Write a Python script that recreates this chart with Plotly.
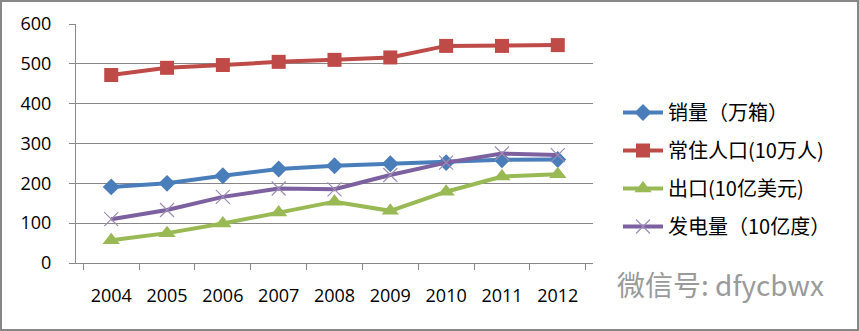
import plotly.graph_objects as go

years = ["2004", "2005", "2006", "2007", "2008", "2009", "2010", "2011", "2012"]
sales = [191, 200, 219, 236, 244, 249, 252, 259, 260]
population = [472, 490, 497, 505, 510, 516, 545, 545, 547]
exports = [57, 75, 99, 127, 154, 131, 179, 217, 223]
power = [110, 133, 166, 187, 185, 221, 252, 275, 271]

names = ["销量（万箱）", "常住人口(10万人)", "出口(10亿美元)", "发电量（10亿度）"]
W, H = 859, 331
ml, mr, mt, mb = 76, 266, 24, 68

fig = go.Figure()
fig.add_trace(go.Scatter(x=years, y=sales, name=names[0], mode="lines+markers", legendgroup="a",
                         line=dict(color="#4A7EBB", width=4),
                         marker=dict(symbol="diamond", size=13, color="#4A7EBB")))
fig.add_trace(go.Scatter(x=years, y=population, name=names[1], mode="lines+markers", legendgroup="b",
                         line=dict(color="#BE4B48", width=4),
                         marker=dict(symbol="square", size=14, color="#BE4B48")))
fig.add_trace(go.Scatter(x=years, y=exports, name=names[2], mode="lines+markers", legendgroup="c",
                         line=dict(color="#98B954", width=4),
                         marker=dict(symbol="triangle-up", size=15, color="#98B954")))
fig.add_trace(go.Scatter(x=years, y=power, name=names[3], mode="lines+markers", legendgroup="d",
                         line=dict(color="#7D60A0", width=4),
                         marker=dict(symbol="x-thin-open", size=14, color="#9C8CB4",
                                     line=dict(width=1.2, color="#9C8CB4"))))

font = "Open Sans, Noto Sans CJK SC, sans-serif"
fig.update_layout(
    width=W, height=H,
    margin=dict(l=ml, r=mr, t=mt, b=mb),
    paper_bgcolor="white", plot_bgcolor="white",
    font=dict(family=font, size=16, color="#000000"),
    showlegend=True,
    legend=dict(x=(618 - ml) / (W - ml - mr), y=(H - mb - 93) / (H - mt - mb), xanchor="left", yanchor="top",
                font=dict(family="Noto Sans CJK SC, sans-serif", size=20, color="#000"),
                tracegroupgap=9, itemwidth=40, bgcolor="rgba(0,0,0,0)"),
    xaxis=dict(type="category", tickson="boundaries", ticks="outside", ticklen=6, tickcolor="#888",
               showline=True, linecolor="#888", linewidth=1, showgrid=False,
               tickfont=dict(size=18), ticklabelstandoff=16),
    yaxis=dict(range=[0, 600], dtick=100, ticks="outside", ticklen=6, tickcolor="#888",
               showline=True, linecolor="#888", linewidth=1, showgrid=True, gridcolor="#888", gridwidth=1,
               zeroline=False, tickfont=dict(size=18), ticklabelstandoff=14),
)

pw = W - ml - mr
ph = H - mt - mb
def px(xp):
    return (xp - ml) / pw
def py(yp):
    return (H - mb - yp) / ph

fig.add_shape(type="rect", xref="paper", yref="paper",
              x0=px(1), x1=px(W - 1), y0=py(H - 1), y1=py(1),
              line=dict(color="#878787", width=2), fillcolor="rgba(0,0,0,0)", layer="above")

fig.add_annotation(text="微信号: dfycbwx", xref="paper", yref="paper", x=px(615), y=py(284),
                   xanchor="left", yanchor="middle", showarrow=False,
                   font=dict(family="Noto Sans CJK SC, sans-serif", size=28, color="#9a9a9a"))

fig.write_html("out.html")
